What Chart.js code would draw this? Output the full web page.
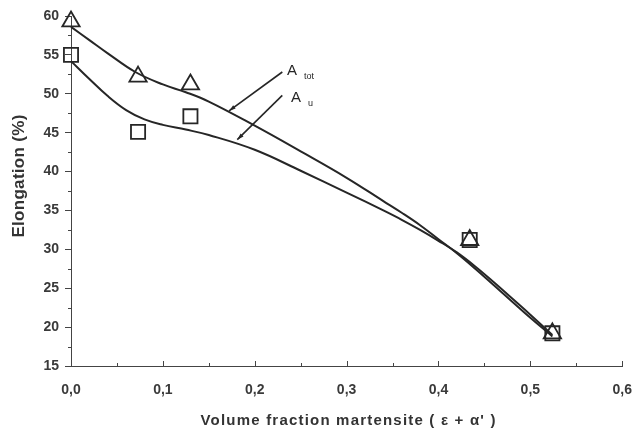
<!DOCTYPE html>
<html>
<head>
<meta charset="utf-8">
<script src="https://cdn.jsdelivr.net/npm/chart.js@4/dist/chart.umd.min.js"></script>
<style>
html,body{margin:0;padding:0;background:#fff;overflow:hidden;}
#wrap{width:634px;height:437px;position:relative;}
</style>
</head>
<body>
<div id="wrap"><canvas id="c" width="634" height="437"></canvas></div>
<script>
// measured points
const fraction = [0.0, 0.073, 0.13, 0.434, 0.524];
const aTot = [59.3, 52.2, 51.2, 31.2, 19.2];
const aU = [55.0, 45.1, 47.1, 31.2, 19.2];
// fitted curves
const fitTotX = [0, 0.02, 0.04, 0.07, 0.1, 0.125, 0.15, 0.2, 0.25, 0.3, 0.34, 0.36, 0.38, 0.40, 0.42, 0.44, 0.46, 0.48, 0.50, 0.524];
const fitTot = [58.6, 56.9, 55.2, 52.8, 51.2, 50.2, 49.0, 45.9, 42.6, 39.2, 36.2, 34.7, 33.1, 31.3, 29.5, 27.5, 25.4, 23.3, 21.2, 18.8];
const fitUX = [0, 0.02, 0.04, 0.06, 0.08, 0.1, 0.125, 0.15, 0.2, 0.25, 0.3, 0.34, 0.36, 0.38, 0.40, 0.42, 0.44, 0.46, 0.48, 0.50, 0.524];
const fitU = [54.2, 51.9, 49.7, 47.9, 46.7, 46.0, 45.4, 44.7, 42.8, 40.1, 37.3, 35.0, 33.8, 32.5, 31.1, 29.6, 27.8, 25.8, 23.7, 21.6, 19.0];
// axis ticks
const xTicks = [0, 0.1, 0.2, 0.3, 0.4, 0.5, 0.6];
const yTicks = [15, 20, 25, 30, 35, 40, 45, 50, 55, 60];
const xTitle = 'Volume fraction martensite ( ε + α\' )';
const yTitle = 'Elongation (%)';
// annotation labels
const labelNames = ['A', 'A'];
const labelSubs = ['tot', 'u'];
const labelAt = [[0.235, 52.4], [0.2395, 48.9]];
const arrowFrom = [[0.230, 52.8], [0.230, 49.8]];
const arrowTo = [[0.172, 47.8], [0.181, 44.1]];

const INK = '#262626';
const FONT = '"Liberation Sans", Arial, sans-serif';
const toPts = (xs, ys) => xs.map((x, i) => ({x: x, y: ys[i]}));

const extras = {
  id: 'extras',
  afterDraw(chart) {
    const ctx = chart.ctx, xs = chart.scales.x, ys = chart.scales.y;
    const area = chart.chartArea;
    ctx.save();
    ctx.strokeStyle = '#444';
    ctx.lineWidth = 1;
    // minor y ticks
    for (let v = 17.5; v < 60; v += 5) {
      const py = Math.round(ys.getPixelForValue(v)) + 0.5;
      ctx.beginPath(); ctx.moveTo(area.left - 3, py); ctx.lineTo(area.left + 1, py); ctx.stroke();
    }
    // x ticks (inward) major and minor
    for (let i = 0; i <= 12; i++) {
      const v = i * 0.05;
      const px = Math.round(xs.getPixelForValue(v)) + 0.5;
      const len = (i % 2 === 0) ? 5 : 3;
      ctx.beginPath(); ctx.moveTo(px, area.bottom + 1); ctx.lineTo(px, area.bottom - len); ctx.stroke();
    }
    // arrows
    ctx.strokeStyle = INK; ctx.fillStyle = INK; ctx.lineWidth = 1.6;
    for (let i = 0; i < arrowFrom.length; i++) {
      const x1 = xs.getPixelForValue(arrowFrom[i][0]), y1 = ys.getPixelForValue(arrowFrom[i][1]);
      const x2 = xs.getPixelForValue(arrowTo[i][0]), y2 = ys.getPixelForValue(arrowTo[i][1]);
      const ang = Math.atan2(y2 - y1, x2 - x1);
      ctx.beginPath(); ctx.moveTo(x1, y1); ctx.lineTo(x2, y2); ctx.stroke();
      ctx.beginPath();
      ctx.moveTo(x2, y2);
      ctx.lineTo(x2 - 7 * Math.cos(ang - 0.3), y2 - 7 * Math.sin(ang - 0.3));
      ctx.lineTo(x2 - 7 * Math.cos(ang + 0.3), y2 - 7 * Math.sin(ang + 0.3));
      ctx.closePath(); ctx.fill();
    }
    // labels
    ctx.fillStyle = INK;
    ctx.textBaseline = 'alphabetic';
    ctx.textAlign = 'left';
    for (let i = 0; i < labelNames.length; i++) {
      const px = xs.getPixelForValue(labelAt[i][0]), py = ys.getPixelForValue(labelAt[i][1]);
      ctx.font = '15px ' + FONT;
      ctx.fillText(labelNames[i], px, py);
      const w = ctx.measureText(labelNames[i]).width;
      ctx.font = '9px ' + FONT;
      ctx.fillText(labelSubs[i], px + w + 7, py + 4);
    }
    // axis titles
    ctx.fillStyle = '#333';
    ctx.font = 'bold 15px ' + FONT;
    ctx.textAlign = 'center';
    ctx.textBaseline = 'middle';
    try { ctx.letterSpacing = '1.2px'; } catch (e) {}
    ctx.fillText(xTitle, (area.left + area.right) / 2 + 2, 421);
    try { ctx.letterSpacing = '0.3px'; } catch (e) {}
    ctx.font = 'bold 17px ' + FONT;
    ctx.translate(19, 176);
    ctx.rotate(-Math.PI / 2);
    ctx.fillText(yTitle, 0, 0);
    ctx.restore();
  }
};

new Chart(document.getElementById('c'), {
  type: 'scatter',
  data: {
    datasets: [
      {label: 'A tot fit', data: toPts(fitTotX, fitTot), showLine: true, borderColor: INK, borderWidth: 2,
       pointRadius: 0, tension: 0.4, fill: false},
      {label: 'A u fit', data: toPts(fitUX, fitU), showLine: true, borderColor: INK, borderWidth: 2,
       pointRadius: 0, tension: 0.4, fill: false},
      {label: 'A u', data: toPts(fraction, aU), showLine: false, pointStyle: 'rect', pointRadius: 10,
       pointBorderColor: INK, pointBackgroundColor: 'rgba(255,255,255,0)', pointBorderWidth: 1.8},
      {label: 'A tot', data: toPts(fraction, aTot), showLine: false, pointStyle: 'triangle', pointRadius: 10,
       pointBorderColor: INK, pointBackgroundColor: 'rgba(255,255,255,0)', pointBorderWidth: 1.8}
    ]
  },
  options: {
    responsive: false,
    animation: false,
    clip: false,
    layout: {padding: {top: 16, right: 9, left: 0, bottom: 0}},
    plugins: {legend: {display: false}, tooltip: {enabled: false}},
    scales: {
      x: {
        type: 'linear', min: 0, max: 0.6,
        afterFit: s => { s.height = 71; s.paddingLeft = 0; s.paddingRight = 0; },
        afterBuildTicks: s => { s.ticks = xTicks.map(v => ({value: v})); },
        grid: {display: true, drawOnChartArea: false, drawTicks: false},
        border: {display: true, color: '#444', width: 1},
        ticks: {color: '#3a3a3a', padding: 16, maxRotation: 0, font: {family: FONT, size: 14, weight: 'bold'},
                callback: v => v.toFixed(1).replace('.', ',')},
        title: {display: false}
      },
      y: {
        type: 'linear', min: 15, max: 60,
        afterFit: s => { s.width = 71; },
        afterBuildTicks: s => { s.ticks = yTicks.map(v => ({value: v})); },
        grid: {display: true, drawOnChartArea: false, drawTicks: true, tickLength: 6, color: '#444'},
        border: {display: true, color: '#444', width: 1},
        ticks: {color: '#3a3a3a', padding: 6, font: {family: FONT, size: 14, weight: 'bold'}},
        title: {display: false}
      }
    }
  },
  plugins: [extras]
});
</script>
</body>
</html>
